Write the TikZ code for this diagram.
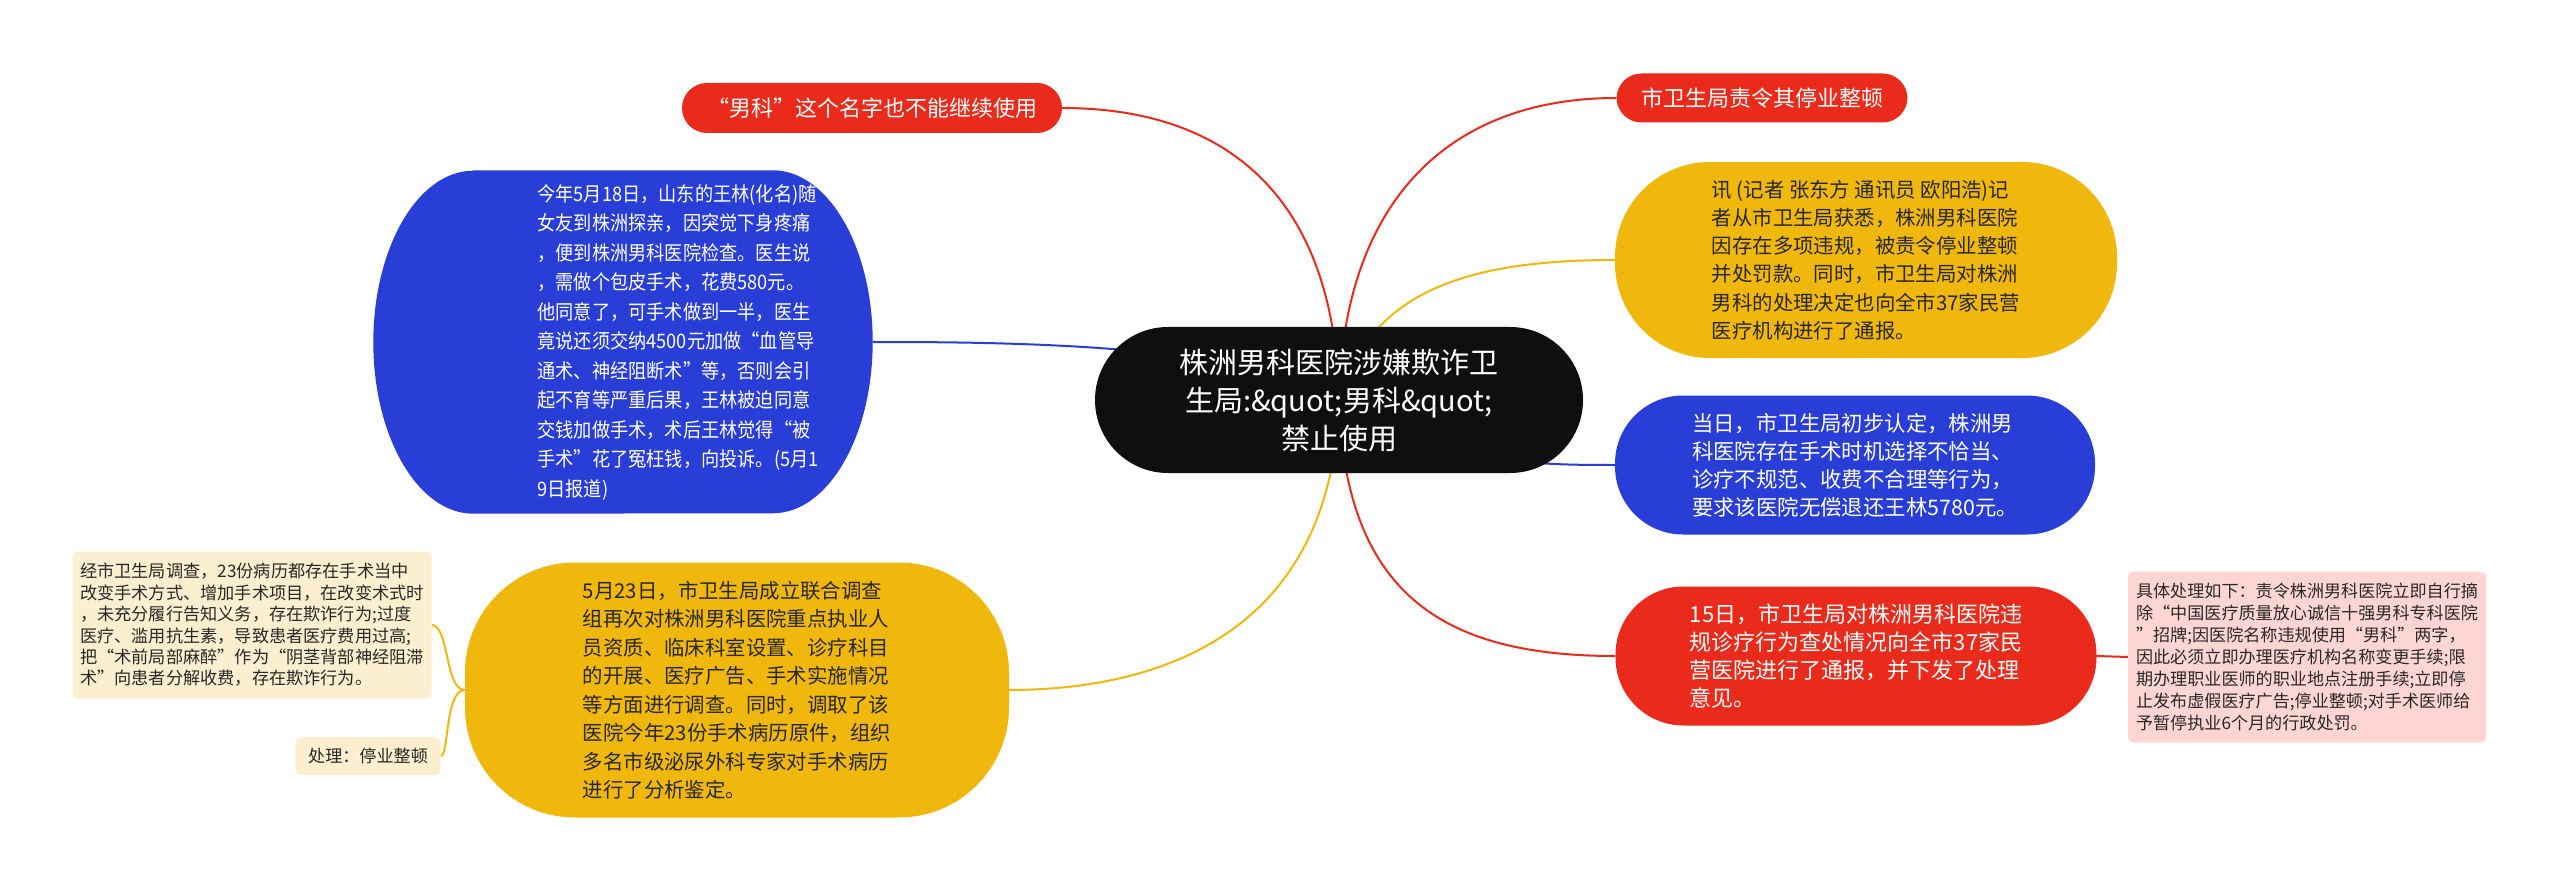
\documentclass[tikz,border=0pt]{standalone}
\usepackage{fontspec}
\setmainfont{Noto Sans CJK SC}
\newfontfamily\narrowcjk[FakeStretch=0.91]{Noto Sans CJK SC}
\usepackage{tikz}
\usetikzlibrary{backgrounds}
\definecolor{mmred}{RGB}{234,43,28}
\definecolor{mmblue}{RGB}{40,62,214}
\definecolor{mmyellow}{RGB}{240,183,12}
\definecolor{mmpink}{RGB}{253,214,212}
\definecolor{mmcream}{RGB}{252,239,207}
\definecolor{mmroot}{RGB}{15,15,15}
\definecolor{mmtext}{RGB}{40,40,40}

\begin{document}
\begin{tikzpicture}[x=1pt,y=-1pt,
	pill/.style={rounded corners=#1, inner sep=0pt, align=left},
	leaf/.style={rounded corners=6pt, inner sep=0pt, align=left, text=mmtext},
	link/.style={line width=2pt}]
			\useasboundingbox (0,0) rectangle (2560,893);
			
			% central topic
			\node [pill=73pt, fill=mmroot, text=white, align=center, minimum width=488pt, minimum height=146pt, font=\fontsize{29}{38}\selectfont] (root) at (1339,400) {株洲男科医院涉嫌欺诈卫\\生局:\&quot;男科\&quot;\\禁止使用};
			
			% left side
			\node [pill=25pt, fill=mmred, text=white, minimum width=380pt, minimum height=50pt, font=\fontsize{22}{26}\selectfont] (tagL) at (872,108) {“男科”这个名字也不能继续使用};
			\node [inner sep=0pt, minimum width=499pt, minimum height=343pt] (blueL) at (623,342) {};
			\node [align=left, inner sep=0pt, text=white, font=\narrowcjk\fontsize{20}{29.5}\selectfont] (blueLtxt) at (678,342) {今年5月18日，山东的王林(化名)随\\女友到株洲探亲，因突觉下身疼痛\\，便到株洲男科医院检查。医生说\\，需做个包皮手术，花费580元。\\他同意了，可手术做到一半，医生\\竟说还须交纳4500元加做“血管导\\通术、神经阻断术”等，否则会引\\起不育等严重后果，王林被迫同意\\交钱加做手术，术后王林觉得“被\\手术”花了冤枉钱，向投诉。(5月1\\9日报道)};
			\node [pill=110pt, fill=mmyellow, text=mmtext, minimum width=544pt, minimum height=255pt, font=\fontsize{20.4}{28.5}\selectfont] (yellowL) at (737,690) {5月23日，市卫生局成立联合调查\\组再次对株洲男科医院重点执业人\\员资质、临床科室设置、诊疗科目\\的开展、医疗广告、手术实施情况\\等方面进行调查。同时，调取了该\\医院今年23份手术病历原件，组织\\多名市级泌尿外科专家对手术病历\\进行了分析鉴定。};
			\node [leaf, fill=mmcream, minimum width=359pt, minimum height=147pt, font=\fontsize{17.2}{21.4}\selectfont] (cream) at (252,625) {经市卫生局调查，23份病历都存在手术当中\\改变手术方式、增加手术项目，在改变术式时\\，未充分履行告知义务，存在欺诈行为;过度\\医疗、滥用抗生素，导致患者医疗费用过高;\\把“术前局部麻醉”作为“阴茎背部神经阻滞\\术”向患者分解收费，存在欺诈行为。};
			\node [leaf, fill=mmcream, minimum width=145pt, minimum height=38pt, font=\fontsize{17.1}{21}\selectfont] (done) at (368,756) {处理：停业整顿};
			
			% right side
			\node [pill=25pt, fill=mmred, text=white, minimum width=291pt, minimum height=49pt, font=\fontsize{22}{26}\selectfont] (tagR) at (1762,98) {市卫生局责令其停业整顿};
			\node [pill=95pt, fill=mmyellow, text=mmtext, minimum width=502pt, minimum height=196pt, font=\fontsize{20.4}{28.3}\selectfont] (yellowR) at (1866,260) {讯 (记者 张东方 通讯员 欧阳浩)记\\者从市卫生局获悉，株洲男科医院\\因存在多项违规，被责令停业整顿\\并处罚款。同时，市卫生局对株洲\\男科的处理决定也向全市37家民营\\医疗机构进行了通报。};
			\node [pill=68pt, fill=mmblue, text=white, minimum width=480pt, minimum height=139pt, font=\fontsize{21.4}{28}\selectfont] (blueR) at (1855,465) {当日，市卫生局初步认定，株洲男\\科医院存在手术时机选择不恰当、\\诊疗不规范、收费不合理等行为，\\要求该医院无偿退还王林5780元。};
			\node [pill=68pt, fill=mmred, text=white, minimum width=481pt, minimum height=139pt, font=\fontsize{22}{28.3}\selectfont] (redR) at (1856,656) {15日，市卫生局对株洲男科医院违\\规诊疗行为查处情况向全市37家民\\营医院进行了通报，并下发了处理\\意见。};
			\node [leaf, fill=mmpink, minimum width=358pt, minimum height=171pt, font=\fontsize{17.1}{22}\selectfont] (pink) at (2307,657) {具体处理如下：责令株洲男科医院立即自行摘\\除“中国医疗质量放心诚信十强男科专科医院\\”招牌;因医院名称违规使用“男科”两字，\\因此必须立即办理医疗机构名称变更手续;限\\期办理职业医师的职业地点注册手续;立即停\\止发布虚假医疗广告;停业整顿;对手术医师给\\予暂停执业6个月的行政处罚。};
			
			% connectors
			\begin{scope}[on background layer]
				\fill [white] (0,0) rectangle (2560,893);
				\draw [link, mmred] (root.center) .. controls (1335,200) and (1230,108) .. (tagL.east);
				\draw [link, mmred] (root.center) .. controls (1343,200) and (1450,98) .. (tagR.west);
				\draw [link, mmyellow] (root.center) .. controls (1370,290) and (1470,260) .. (yellowR.west);
				\draw [link, mmblue] (root.center) .. controls (1250,343) and (1000,342) .. (blueL.east);
				\draw [link, mmblue] (root.center) .. controls (1450,464) and (1530,465) .. (blueR.west);
				\draw [link, mmred] (root.center) .. controls (1345,600) and (1450,656) .. (redR.west);
				\draw [link, mmyellow] (root.center) .. controls (1332,640) and (1150,690) .. (yellowL.east);
				\draw [link, mmred] (redR.east) -- (pink.west);
				\draw [link, mmyellow] (yellowL.west) .. controls (445,690) and (449,625) .. (cream.east);
				\draw [link, mmyellow] (yellowL.west) .. controls (445,690) and (449,756) .. (done.east);
				% blue bubble with oval ends
				\fill [mmblue] ([xshift=100pt]blueL.north west) -- ([xshift=-100pt]blueL.north east) arc[start angle=90, end angle=-90, x radius=100pt, y radius=171.5pt] -- ([xshift=100pt]blueL.south west) arc[start angle=-90, end angle=-270, x radius=100pt, y radius=171.5pt] -- cycle;
			\end{scope}
			
		\end{tikzpicture}
\end{document}
